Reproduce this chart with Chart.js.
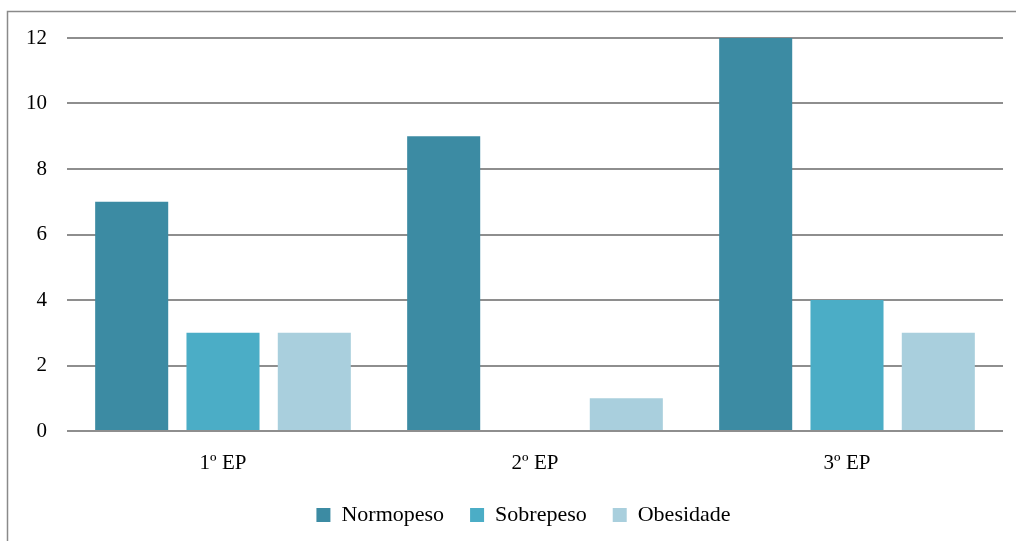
<!DOCTYPE html>
<html>
<head>
<meta charset="utf-8">
<script src="https://cdn.jsdelivr.net/npm/chart.js@4/dist/chart.umd.min.js"></script>
<style>
  html, body { margin: 0; padding: 0; background: #ffffff; }
  #wrap { width: 1016px; height: 541px; position: relative; }
</style>
</head>
<body>
<div id="wrap"><canvas id="c" width="1016" height="541"></canvas></div>
<script>
const categories = ['1º EP', '2º EP', '3º EP'];
const normopeso = [7, 9, 12];
const sobrepeso = [3, 0, 4];
const obesidade = [3, 1, 3];
const yTicks = [0, 2, 4, 6, 8, 10, 12];

const FONT = "'Liberation Serif', 'Times New Roman', serif";

// Outer frame of the chart object, open at the right and bottom edges
const framePlugin = {
  id: 'frame',
  beforeDraw(chart) {
    const ctx = chart.ctx;
    ctx.save();
    ctx.strokeStyle = '#8a8a8a';
    ctx.lineWidth = 1.5;
    ctx.beginPath();
    ctx.moveTo(7.5, chart.height + 2);
    ctx.lineTo(7.5, 11.5);
    ctx.lineTo(chart.width + 2, 11.5);
    ctx.stroke();
    ctx.restore();
  }
};

// Center the legend under the region right of the frame edge
const legendShift = {
  id: 'legendShift',
  afterLayout(chart) {
    if (chart.legend) {
      chart.legend.left += 22;
      chart.legend.right += 22;
    }
  }
};

new Chart(document.getElementById('c'), {
  type: 'bar',
  data: {
    labels: categories,
    datasets: [
      { label: 'Normopeso', data: normopeso, backgroundColor: '#3c8ba3' },
      { label: 'Sobrepeso', data: sobrepeso, backgroundColor: '#4badc6' },
      { label: 'Obesidade', data: obesidade, backgroundColor: '#a9cfdd' }
    ]
  },
  options: {
    responsive: false,
    animation: false,
    devicePixelRatio: 1,
    layout: { padding: { left: 0, right: 13, top: 38, bottom: 5 } },
    datasets: { bar: { categoryPercentage: 0.878, barPercentage: 0.8 } },
    plugins: {
      legend: {
        position: 'bottom',
        labels: {
          font: { family: FONT, size: 22 },
          color: '#000',
          boxWidth: 14,
          boxHeight: 14,
          padding: 26
        }
      },
      tooltip: { enabled: false }
    },
    scales: {
      x: {
        afterFit(scale) { scale.height = 47; },
        grid: { display: false, drawTicks: false },
        border: { display: false },
        ticks: { font: { family: FONT, size: 21 }, color: '#000', padding: 20 }
      },
      y: {
        min: 0,
        max: 12,
        afterBuildTicks(scale) { scale.ticks = yTicks.map(v => ({ value: v })); },
        afterFit(scale) { scale.width = 67; },
        grid: { color: '#8e8e8e', lineWidth: 2, drawTicks: false },
        border: { display: false },
        ticks: { font: { family: FONT, size: 21 }, color: '#000', padding: 20 }
      }
    }
  },
  plugins: [framePlugin, legendShift]
});
</script>
</body>
</html>
